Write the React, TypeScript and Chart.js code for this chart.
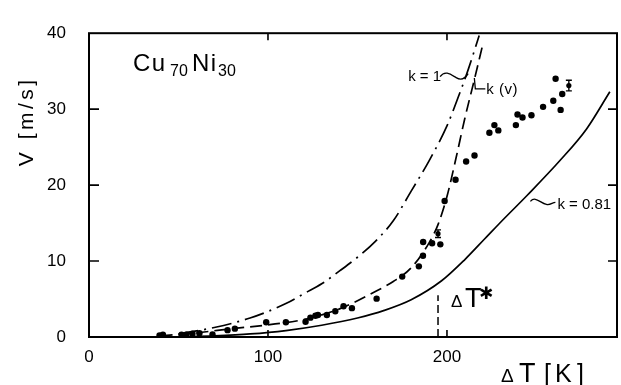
import React, { useEffect, useRef } from 'react';
import { Chart, registerables } from 'chart.js';
Chart.register(...registerables);

// ---- data ----
const xTicks = [0, 100, 200];
const yTicks = [0, 10, 20, 30, 40];

const pointT = [39.4, 41.3, 51.7, 54.4, 57.8, 61.7, 69, 77.4, 81.5, 99, 110, 121, 123.7, 126.5, 127.9, 132.9, 137.6, 142.2, 146.9, 160.7, 175, 184.3, 186.6, 186.7, 191.7, 196.3, 198.7, 204.8, 210.7, 215.4, 223.7, 226.5, 228.7, 238.5, 239.4, 242.2, 247.2, 253.7, 259.4, 263.5, 264.4, 260.7];
const pointV = [0.2, 0.3, 0.3, 0.3, 0.45, 0.5, 0.33, 0.9, 1.1, 1.95, 1.95, 2.0, 2.55, 2.8, 2.9, 2.9, 3.4, 4.05, 3.8, 5.05, 7.95, 9.3, 10.7, 12.5, 12.35, 12.2, 17.9, 20.7, 23.1, 23.9, 26.9, 27.9, 27.2, 27.9, 29.3, 28.9, 29.2, 30.3, 31.1, 29.9, 32.0, 34.0];

const errT = [195, 268.1];
const errV = [13.6, 33.1];
const errD = [0.5, 0.7];

const k1T = [50, 70, 90, 110, 120, 130, 140, 150, 160, 170, 180, 190, 200, 206, 212, 218];
const k1V = [0.4, 1.25, 2.5, 4.4, 5.7, 7.0, 8.7, 10.5, 12.6, 15.3, 19.2, 23.2, 27.8, 31.4, 35.3, 39.7];

const kvT = [40, 60, 80, 100, 120, 140, 160, 170, 180, 190, 195, 200, 205, 210, 215, 220];
const kvV = [0.15, 0.55, 1.1, 1.6, 2.3, 3.7, 6.0, 7.3, 9.1, 12.4, 14.8, 18.5, 23.5, 28.8, 33.6, 38.5];

const k081T = [50, 70, 90, 110, 130, 150, 165, 180, 197, 210, 221, 232, 245, 263, 278, 291];
const k081V = [0, 0.15, 0.4, 0.85, 1.55, 2.5, 3.5, 4.9, 7.4, 10.2, 12.9, 15.6, 18.7, 23.2, 27.4, 32.3];

const deltaTStar = 195;

const FONT = '"Liberation Sans", Arial, sans-serif';

function txt(ctx: CanvasRenderingContext2D, s: string, x: number, y: number, size: number, ls = 0, family = FONT) {
  ctx.font = `${size}px ${family}`;
  (ctx as any).letterSpacing = `${ls}px`;
  ctx.fillText(s, x, y);
  (ctx as any).letterSpacing = '0px';
}

const decor = {
  id: 'decor',
  afterDatasetsDraw(chart: any) {
    const { ctx, chartArea: a, scales } = chart;
    const xs = scales.x, ys = scales.y;
    ctx.save();
    ctx.strokeStyle = '#000';
    ctx.fillStyle = '#000';
    ctx.setLineDash([]);
    // frame
    ctx.lineWidth = 2;
    ctx.strokeRect(a.left, a.top, a.right - a.left, a.bottom - a.top);
    // inward ticks
    ctx.lineWidth = 1.6;
    ctx.beginPath();
    xTicks.forEach((v) => {
      if (v <= xs.min || v >= xs.max) return;
      const px = xs.getPixelForValue(v);
      ctx.moveTo(px, a.bottom); ctx.lineTo(px, a.bottom - 7);
      ctx.moveTo(px, a.top); ctx.lineTo(px, a.top + 7);
    });
    yTicks.forEach((v) => {
      if (v <= ys.min || v >= ys.max) return;
      const py = ys.getPixelForValue(v);
      ctx.moveTo(a.left, py); ctx.lineTo(a.left + 10, py);
      ctx.moveTo(a.right, py); ctx.lineTo(a.right - 9, py);
    });
    ctx.stroke();

    // error bars
    ctx.lineWidth = 1.4;
    errT.forEach((t, i) => {
      const px = xs.getPixelForValue(t);
      const p1 = ys.getPixelForValue(errV[i] - errD[i]);
      const p2 = ys.getPixelForValue(errV[i] + errD[i]);
      ctx.beginPath();
      ctx.moveTo(px, p1); ctx.lineTo(px, p2);
      ctx.moveTo(px - 3, p1); ctx.lineTo(px + 3, p1);
      ctx.moveTo(px - 3, p2); ctx.lineTo(px + 3, p2);
      ctx.stroke();
    });

    // ΔT* marker
    const sx = xs.getPixelForValue(deltaTStar);
    ctx.lineWidth = 1.5;
    ctx.setLineDash([8, 4]);
    ctx.beginPath();
    ctx.moveTo(sx, a.bottom); ctx.lineTo(sx, ys.getPixelForValue(5.5));
    ctx.stroke();
    ctx.setLineDash([]);

    ctx.textBaseline = 'alphabetic';
    ctx.textAlign = 'left';
    txt(ctx, 'Δ', sx + 13, 307, 17);
    txt(ctx, 'T', sx + 27, 307, 27);
    txt(ctx, '✱', sx + 41, 299, 17, 0, '"DejaVu Sans", sans-serif');

    // curve labels
    const k1x = xs.getPixelForValue(178.3), k1y = ys.getPixelForValue(33.75);
    txt(ctx, 'k = 1', k1x, k1y, 15);
    ctx.lineWidth = 1.3;
    ctx.beginPath();
    ctx.moveTo(k1x + 32, k1y - 4);
    ctx.bezierCurveTo(k1x + 37, k1y - 11, k1x + 43, k1y - 6, k1x + 48, k1y - 3);
    ctx.bezierCurveTo(k1x + 53, k1y, k1x + 57, k1y - 2, k1x + 60, k1y - 7);
    ctx.stroke();

    const kvx = xs.getPixelForValue(222), kvy = ys.getPixelForValue(32);
    txt(ctx, 'k (v)', kvx, kvy, 15, 0.5);
    ctx.beginPath();
    ctx.moveTo(kvx - 12, kvy - 16); ctx.lineTo(kvx - 11, kvy - 5); ctx.lineTo(kvx - 1, kvy - 5);
    ctx.stroke();

    const k8x = xs.getPixelForValue(261.7), k8y = ys.getPixelForValue(16.8);
    txt(ctx, 'k = 0.81', k8x, k8y, 15);
    ctx.beginPath();
    ctx.moveTo(k8x - 27, k8y - 8);
    ctx.bezierCurveTo(k8x - 22, k8y - 14, k8x - 17, k8y - 6, k8x - 11, k8y - 5);
    ctx.bezierCurveTo(k8x - 7, k8y - 4, k8x - 5, k8y - 7, k8x - 2, k8y - 7);
    ctx.stroke();

    // alloy label
    txt(ctx, 'Cu', a.left + 44, a.top + 38, 24, 1.5);
    txt(ctx, '70', a.left + 81, a.top + 43, 16);
    txt(ctx, 'Ni', a.left + 103, a.top + 38, 24, 1.5);
    txt(ctx, '30', a.left + 129, a.top + 43, 16);

    // axis titles
    txt(ctx, 'Δ', a.right - 116, 382, 19);
    txt(ctx, 'T', a.right - 98, 382, 27);
    txt(ctx, '[', a.right - 73, 382, 25);
    txt(ctx, 'K', a.right - 62, 382, 25);
    txt(ctx, ']', a.right - 40, 382, 25);

    ctx.save();
    ctx.translate(33, a.top + 133);
    ctx.rotate(-Math.PI / 2);
    txt(ctx, 'V [m/s]', 0, 0, 21, 3.5);
    ctx.restore();

    ctx.restore();
  },
};

const lineDs = (T: number[], V: number[], dash: number[]) => ({
  type: 'line' as const,
  data: T.map((t, i) => ({ x: t, y: V[i] })),
  borderColor: '#000',
  borderWidth: 1.7,
  borderDash: dash,
  pointRadius: 0,
  cubicInterpolationMode: 'monotone' as const,
  fill: false,
});

export default function App() {
  const ref = useRef<HTMLCanvasElement>(null);
  useEffect(() => {
    document.body.style.margin = '0';
    const chart = new Chart(ref.current!, {
      type: 'scatter',
      data: {
        datasets: [
          lineDs(k1T, k1V, [20, 6, 2, 6]) as any,
          lineDs(kvT, kvV, [12, 6]) as any,
          lineDs(k081T, k081V, []) as any,
          {
            type: 'scatter',
            data: pointT.map((t, i) => ({ x: t, y: pointV[i] })),
            pointRadius: 3.2,
            backgroundColor: '#000',
            borderWidth: 0,
            showLine: false,
          },
          {
            type: 'scatter',
            data: errT.map((t, i) => ({ x: t, y: errV[i] })),
            pointRadius: 2.6,
            backgroundColor: '#000',
            borderWidth: 0,
            showLine: false,
          },
        ],
      },
      options: {
        responsive: false,
        animation: false,
        devicePixelRatio: 1,
        layout: { padding: { top: 17, right: 2, left: 0, bottom: 0 } },
        plugins: { legend: { display: false }, tooltip: { enabled: false } },
        scales: {
          x: {
            type: 'linear',
            min: 0,
            max: 295,
            afterBuildTicks: (s: any) => { s.ticks = xTicks.map((v) => ({ value: v })); },
            grid: { display: false, drawTicks: false },
            border: { display: false },
            ticks: { color: '#000', font: { family: FONT, size: 17 }, padding: 10, maxRotation: 0, autoSkip: false },
            afterFit: (s: any) => { s.height = 48; },
          },
          y: {
            type: 'linear',
            min: 0,
            max: 40,
            afterBuildTicks: (s: any) => { s.ticks = yTicks.map((v) => ({ value: v })); },
            grid: { display: false, drawTicks: false },
            border: { display: false },
            ticks: { color: '#000', font: { family: FONT, size: 17 }, padding: 23 },
            afterFit: (s: any) => { s.width = 89; },
          },
        },
      },
      plugins: [decor],
    });
    return () => chart.destroy();
  }, []);
  return (
    <div style={{ width: 621, height: 385 }}>
      <canvas ref={ref} width={621} height={385} style={{ display: 'block' }} />
    </div>
  );
}
